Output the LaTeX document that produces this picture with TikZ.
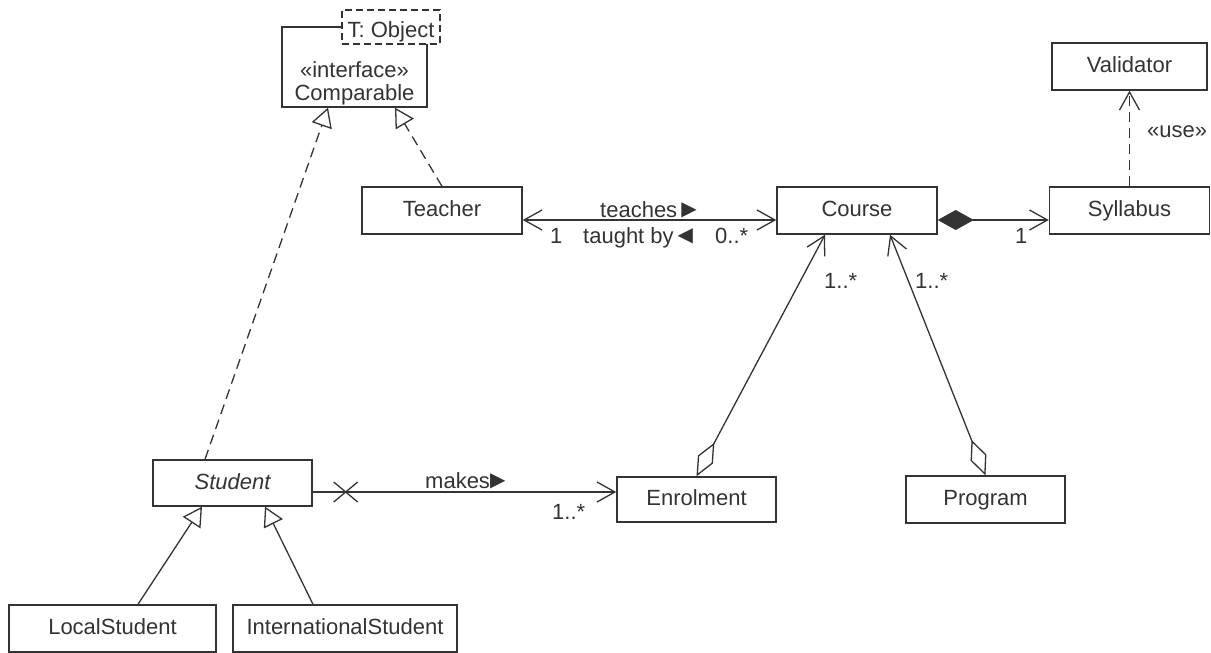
\documentclass[tikz,border=0pt]{standalone}
\usepackage{fontspec}
\setmainfont{Liberation Sans}
\newfontfamily\symfont{DejaVu Sans}
\usetikzlibrary{arrows.meta,calc}
\definecolor{ink}{HTML}{333333}
\newcommand{\rtri}{{\symfont\fontsize{20}{20}\selectfont\raisebox{1.5pt}{▶}}}
\newcommand{\ltri}{{\symfont\fontsize{20}{20}\selectfont\raisebox{1.5pt}{◀}}}
\begin{document}
\begin{tikzpicture}[x=1pt,y=-1pt,
  every node/.style={font=\fontsize{22}{23}\selectfont, text=ink},
  box/.style={draw=ink, line width=1.4pt, minimum width=160pt, minimum height=47pt, inner sep=0pt, text height=16pt, text depth=4pt, fill=white},
  conn/.style={draw=ink, line width=1.3pt},
  lbl/.style={anchor=base west, inner sep=0pt},
  dashln/.style={dash pattern=on 10pt off 6pt},
  nav/.style={-{Straight Barb[length=18pt,width=20pt]}},
  bnav/.style={{Straight Barb[length=18pt,width=20pt]}-{Straight Barb[length=18pt,width=20pt]}},
  gen/.style={-{Triangle[open,length=19pt,width=21pt]}},
  real/.style={dashln, -{Triangle[open,length=19pt,width=21pt]}},
  comp/.style={{Diamond[length=36pt,width=20pt]}-{Straight Barb[length=18pt,width=20pt]}},
  agg/.style={{Diamond[open,length=38pt,width=17pt]}-{Straight Barb[length=18pt,width=20pt]}}
]
\useasboundingbox (0,0) rectangle (1211,653);

% interface Comparable with template parameter
\node[draw=ink, line width=1.4pt, minimum width=145pt, minimum height=80pt, inner sep=0pt] (cmp) at (354.5,67) {};
\node[draw=ink, line width=1.2pt, dash pattern=on 7pt off 4pt, fill=white, minimum width=98pt, minimum height=34pt, inner sep=0pt, text height=20pt, text depth=0pt] (tparam) at (391,27) {T: Object};
\node[anchor=base, inner sep=0pt] (cmpst) at (354.5,77) {«interface»};
\node[anchor=base, inner sep=0pt] (cmpname) at (354.5,100) {Comparable};

% classes
\node[box] (teacher) at (442,210.5) {Teacher};
\node[box] (course) at (857,210.5) {Course};
\node[box] (syllabus) at (1129.5,210.5) {Syllabus};
\node[box, minimum width=155pt] (validator) at (1129.5,66.5) {Validator};
\node[box, minimum width=159pt, minimum height=46pt] (student) at (232.5,483) {\itshape Student};
\node[box, minimum width=159pt, minimum height=45pt] (enrol) at (696.5,499.5) {Enrolment};
\node[box, minimum width=159pt] (program) at (985.5,499.5) {Program};
\node[box, minimum width=207pt] (local) at (112.5,628.5) {LocalStudent};
\node[box, minimum width=224pt] (intl) at (345,628.5) {InternationalStudent};

% realizations
\draw[conn, real] ([xshift=-27.5pt]student.north) -- ([xshift=-26.5pt]cmp.south);
\draw[conn, real] (teacher.north) -- ([xshift=40.5pt]cmp.south);

% associations
\draw[conn, bnav] ([yshift=-9.5pt]teacher.east) -- ([yshift=-9.5pt]course.west);
\draw[conn, comp] ([yshift=-9.5pt]course.east) -- ([yshift=-9.5pt]syllabus.west);
\draw[conn, dashln, nav] (syllabus.north) -- (validator.south);
\draw[conn, agg] (enrol.north) -- ([xshift=-32pt]course.south);
\draw[conn, agg] (program.north) -- ([xshift=33pt]course.south);
\coordinate (se) at ([yshift=-9pt]student.east);
\draw[conn, nav] (se) -- (se -| enrol.west);
\coordinate (xm) at ([xshift=33pt]se);
\draw[conn] ($(xm)+(-12,-10)$) -- ($(xm)+(12,10)$);
\draw[conn] ($(xm)+(-12,10)$) -- ($(xm)+(12,-10)$);

% generalizations
\draw[conn, gen] ([xshift=25.5pt]local.north) -- ([xshift=-30.5pt]student.south);
\draw[conn, gen] ([xshift=-32pt]intl.north) -- ([xshift=32.5pt]student.south);

% labels
\node[lbl] (teaches) at (600,217) {teaches\kern4pt\rtri};
\node[lbl] (m1) at (550,243) {1};
\node[lbl] (taught) at (583,243) {taught by\kern4pt\ltri};
\node[lbl] (m0) at (715,243) {0..*};
\node[lbl] (ms1) at (1015,243) {1};
\node[lbl] (use) at (1147,137) {«use»};
\node[lbl] (me) at (824,288) {1..*};
\node[lbl] (mp) at (915,288) {1..*};
\node[lbl] (makes) at (425,488) {makes\rtri};
\node[lbl] (ms) at (552,519) {1..*};
\end{tikzpicture}
\end{document}
